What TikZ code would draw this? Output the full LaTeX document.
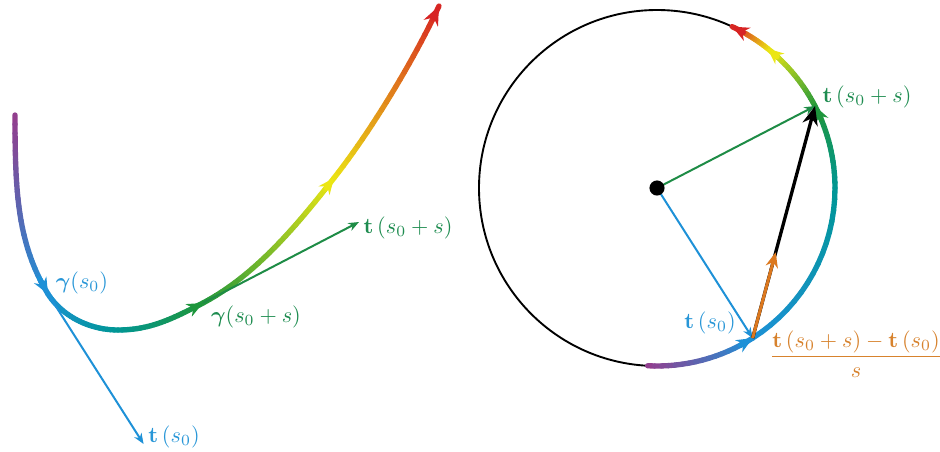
\documentclass[tikz,border=0pt]{standalone}
\usepackage{amsmath}
\usetikzlibrary{arrows.meta,calc}
\definecolor{cpurple}{RGB}{150,60,140}
\definecolor{cblue}{RGB}{30,145,215}
\definecolor{cteal}{RGB}{0,150,150}
\definecolor{cgreen}{RGB}{30,150,60}
\definecolor{cyellow}{RGB}{235,230,20}
\definecolor{cred}{RGB}{215,35,35}
\definecolor{ctblue}{RGB}{40,150,215}
\definecolor{ctgreen}{RGB}{30,140,80}
\definecolor{lgreen}{RGB}{30,140,70}
\definecolor{corange}{RGB}{215,130,45}
\definecolor{aorange}{RGB}{220,120,30}
\tikzset{
  curvestyle/.style={line width=2.4pt, line cap=round},
  thinline/.style={line width=0.9pt},
  bigtip/.style={-{Stealth[length=7.2pt,width=6.2pt]}},
  smalltip/.style={-{Stealth[length=4.8pt,width=3.8pt]}},
  lbl/.style={inner sep=1pt}
}
\newcommand\gradbez[6]{%
  \foreach \i in {1,...,24}{%
    \pgfmathsetmacro\ta{(\i-1)/24}%
    \pgfmathsetmacro\tb{\i/24}%
    \pgfmathtruncatemacro\pp{100-(\i-0.5)*100/24}%
    \path (#1) .. controls (#2) and (#3) .. (#4) coordinate[pos=\ta] (ga) coordinate[pos=\tb] (gb);%
    \draw[curvestyle, draw=#5!\pp!#6] (ga) -- (gb);%
  }}
\newcommand\gradarc[4]{%
  \foreach \i in {1,...,16}{%
    \pgfmathsetmacro\aa{-(#1+(#2-#1)*(\i-1)/16)}%
    \pgfmathsetmacro\ab{-(#1+(#2-#1)*\i/16)}%
    \pgfmathtruncatemacro\pp{100-(\i-0.5)*100/16}%
    \draw[curvestyle, draw=#3!\pp!#4, shift={(Oc)}] (\aa:178) -- (\ab:178);%
  }}
\begin{document}
\begin{tikzpicture}[x=0.45pt,y=-0.45pt]
\useasboundingbox (0,0) rectangle (940,452);
% ---------- left curve ----------
\coordinate (A) at (15,115);
\coordinate (A1) at (15,190);
\coordinate (B0) at (17,243);
\coordinate (B) at (48,294);
\coordinate (B1) at (61.4,315);
\coordinate (L0) at (88,330);
\coordinate (L) at (118,330);
\coordinate (L1) at (150,330);
\coordinate (D0) at (172,319);
\coordinate (D) at (203,303);
\coordinate (D1) at (256,275);
\coordinate (Y0) at (298,224);
\coordinate (Y) at (334,178);
\coordinate (Y1) at (371,131);
\coordinate (E0) at (414,60);
\coordinate (E) at (439,6);
\gradbez{A}{A1}{B0}{B}{cpurple}{cblue}
\gradbez{B}{B1}{L0}{L}{cblue}{cteal}
\gradbez{L}{L1}{D0}{D}{cteal}{cgreen}
\gradbez{D}{D1}{Y0}{Y}{cgreen}{cyellow}
\gradbez{Y}{Y1}{E0}{E}{cyellow}{cred}
\path (A) .. controls (A1) and (B0) .. (B) coordinate[pos=0.9] (Ba);
\path (L) .. controls (L1) and (D0) .. (D) coordinate[pos=0.9] (Da);
\path (D) .. controls (D1) and (Y0) .. (Y) coordinate[pos=0.93] (Ya);
\path (Y) .. controls (Y1) and (E0) .. (E) coordinate[pos=0.93] (Ea);
\draw[curvestyle, bigtip, cblue] (Ba) -- (B);
\draw[curvestyle, bigtip, cgreen] (Da) -- (D);
\draw[curvestyle, bigtip, cyellow] (Ya) -- (Y);
\draw[curvestyle, -{Stealth[length=8.5pt,width=7pt]}, cred] (Ea) -- (E);
% tangent vectors
\coordinate (Bt) at (143.6,444);
\coordinate (Dt) at (359,222);
\draw[thinline, smalltip, cblue] (B) -- (Bt);
\draw[thinline, smalltip, lgreen] (D) -- (Dt);
\node[lbl, text=ctblue] (lg0) at (82,283) {$\boldsymbol{\gamma}(s_0)$};
\node[lbl, text=ctgreen] (lg1) at (256,317) {$\boldsymbol{\gamma}(s_0+s)$};
\node[lbl, text=ctgreen] (lt1) at (408,228) {$\mathbf{t}\,(s_0+s)$};
\node[lbl, text=ctblue] (lt0) at (174,437) {$\mathbf{t}\,(s_0)$};
% ---------- circle ----------
\coordinate (Oc) at (657,188);
\draw[line width=0.85pt] (Oc) circle[radius=178];
\gradarc{-93}{-57.5}{cpurple}{cblue}
\gradarc{-57.5}{0}{cblue}{cteal}
\gradarc{0}{27.4}{cteal}{cgreen}
\gradarc{27.4}{51.6}{cgreen}{cyellow}
\gradarc{51.6}{65}{cyellow}{cred}
\draw[curvestyle, bigtip, cblue, shift={(Oc)}] (62:178) -- (57.5:178);
\draw[curvestyle, bigtip, cgreen, shift={(Oc)}] (-23:178) -- (-27.4:178);
\draw[curvestyle, bigtip, cyellow, shift={(Oc)}] (-47.6:178) -- (-51.6:178);
\draw[curvestyle, -{Stealth[length=7.5pt,width=6.5pt]}, cred, shift={(Oc)}] (-61:178) -- (-65:178);
\coordinate (T0) at ($(Oc)+(57.5:178)$);
\coordinate (T1) at ($(Oc)+(-27.4:178)$);
\coordinate (Tm) at ($(T0)!0.37!(T1)$);
\draw[thinline, smalltip, cblue] (Oc) -- (T0);
\draw[thinline, smalltip, lgreen] (Oc) -- (T1);
\draw[line width=1.5pt, -{Stealth[length=8.5pt,width=7pt]}] (T0) -- (T1);
\draw[line width=1.4pt, -{Stealth[length=6.8pt,width=5.6pt]}, aorange] (T0) -- (Tm);
\node[circle, fill=black, inner sep=0pt, minimum size=6.8pt] (O) at (Oc) {};
\node[lbl, text=ctgreen] (rt1) at (867,97) {$\mathbf{t}\,(s_0+s)$};
\node[lbl, text=ctblue] (rt0) at (710,323) {$\mathbf{t}\,(s_0)$};
\node[lbl, text=corange] (fr) at (856,354) {$\dfrac{\mathbf{t}\,(s_0+s)-\mathbf{t}\,(s_0)}{s}$};
\end{tikzpicture}
\end{document}
